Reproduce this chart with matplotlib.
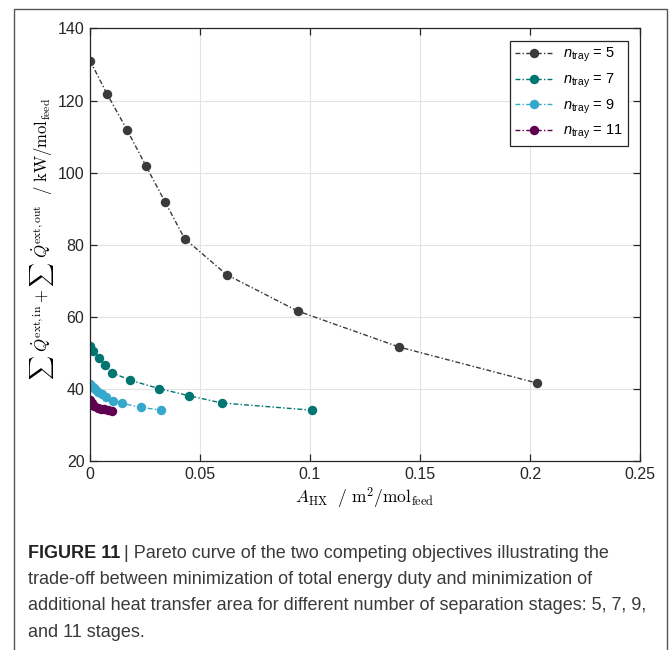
import matplotlib
matplotlib.use("Agg")
import matplotlib.pyplot as plt
from matplotlib.font_manager import FontProperties
from matplotlib.patches import Rectangle

# Math in axis labels uses Computer Modern, legend math uses the sans font
plt.rcParams["mathtext.fontset"] = "cm"
plt.rcParams["mathtext.rm"] = "Liberation Sans"
plt.rcParams["mathtext.it"] = "Liberation Sans:italic"
plt.rcParams["font.family"] = "Liberation Sans"

# Pareto fronts for each number of trays
# n_tray = 5
area_5 = [0.0, 0.0077, 0.0168, 0.0255, 0.0342, 0.0430, 0.0621, 0.0944, 0.1406, 0.2033]
duty_5 = [131.1, 121.9, 111.9, 101.8, 91.8, 81.7, 71.7, 61.6, 51.6, 41.6]

# n_tray = 7
area_7 = [0.0, 0.0014, 0.0042, 0.0070, 0.0100, 0.0183, 0.0313, 0.0451, 0.0598, 0.1007]
duty_7 = [51.9, 50.6, 48.6, 46.6, 44.5, 42.4, 40.1, 38.1, 36.1, 34.1]

# n_tray = 9
area_9 = [0.0, 0.0012, 0.0024, 0.0038, 0.0055, 0.0073, 0.0105, 0.0146, 0.0230, 0.0323]
duty_9 = [41.3, 40.6, 39.9, 39.1, 38.5, 37.8, 36.7, 36.0, 34.9, 34.1]

# n_tray = 11
area_11 = [0.0, 0.0009, 0.0020, 0.0035, 0.0050, 0.0065, 0.0082, 0.0098]
duty_11 = [36.9, 36.0, 35.2, 34.8, 34.5, 34.3, 34.1, 33.9]

tray_labels = ["5", "7", "9", "11"]
colors = ["#3b3b3b", "#007571", "#35a8cb", "#600050"]

caption_lines = [
    "| Pareto curve of the two competing objectives illustrating the",
    "trade-off between minimization of total energy duty and minimization of",
    "additional heat transfer area for different number of separation stages: 5, 7, 9,",
    "and 11 stages.",
]

fig = plt.figure(figsize=(6.7, 6.5), dpi=100)
ax = fig.add_axes([0.1343, 0.2908, 0.8209, 0.6654])

series = [(area_5, duty_5), (area_7, duty_7), (area_9, duty_9), (area_11, duty_11)]
for (x, y), label, color in zip(series, tray_labels, colors):
    ax.plot(x, y, linestyle=(0, (3.5, 1.6, 1.0, 1.6)), linewidth=1.0, color=color,
            marker="o", markersize=6.8, markeredgewidth=0,
            label=r"$n_{\mathrm{tray}}$ = " + label)

ax.set_xlim(0, 0.25)
ax.set_ylim(20, 140)
ax.set_xticks([0, 0.05, 0.1, 0.15, 0.2, 0.25])
ax.set_xticklabels(["0", "0.05", "0.1", "0.15", "0.2", "0.25"])
ax.set_yticks([20, 40, 60, 80, 100, 120, 140])
ax.grid(True, color="#e3e3e3", linewidth=0.8)
ax.set_axisbelow(True)
ax.tick_params(direction="in", top=True, right=True, length=5, width=0.9,
               labelsize=11.5, colors="#262626", pad=4)
for spine in ax.spines.values():
    spine.set_color("#262626")
    spine.set_linewidth(0.9)

ax.set_xlabel(r"$A_{\mathrm{HX}}\ \ /\ \mathrm{m}^2/\mathrm{mol}_{\mathrm{feed}}$",
              fontsize=12.5, labelpad=3)
ax.set_ylabel(r"$\sum\ \dot{Q}^{\mathrm{ext,in}} + \sum\ \dot{Q}^{\mathrm{ext,out}}\ \ /\ \mathrm{kW}/\mathrm{mol}_{\mathrm{feed}}$",
              fontsize=12)
ax.yaxis.set_label_coords(-0.061, 0.514)

leg_font = FontProperties(family="Liberation Sans", size=10.5, math_fontfamily="custom")
leg = ax.legend(loc="upper right", bbox_to_anchor=(0.978, 0.971), borderaxespad=0,
                prop=leg_font, fancybox=False, framealpha=1, edgecolor="#262626",
                handlelength=2.6, handletextpad=0.7, labelspacing=0.5,
                borderpad=0.35)
leg.get_frame().set_linewidth(0.9)

# Outer frame of the figure panel
fig.patches.append(Rectangle((14 / 670, -0.05), 653 / 670, 1.05 - 9 / 650,
                             transform=fig.transFigure, fill=False,
                             edgecolor="#555555", linewidth=1.0))

# Caption below the plot
caption_color = "#3a3a3a"
cap_size = 13
x0 = 28 / 670
line_y = [553, 579.5, 606, 632.5]
head = fig.text(x0, 1 - line_y[0] / 650, "FIGURE 11", fontsize=cap_size,
                fontweight="bold", color="#222222", va="center")
renderer = fig.canvas.get_renderer()
bb = head.get_window_extent(renderer)
for i, line in enumerate(caption_lines):
    x = (bb.x1 + 4) / fig.bbox.width if i == 0 else x0
    fig.text(x, 1 - line_y[i] / 650, line, fontsize=cap_size,
             color=caption_color, va="center")

fig.savefig("out.png", dpi=100)
